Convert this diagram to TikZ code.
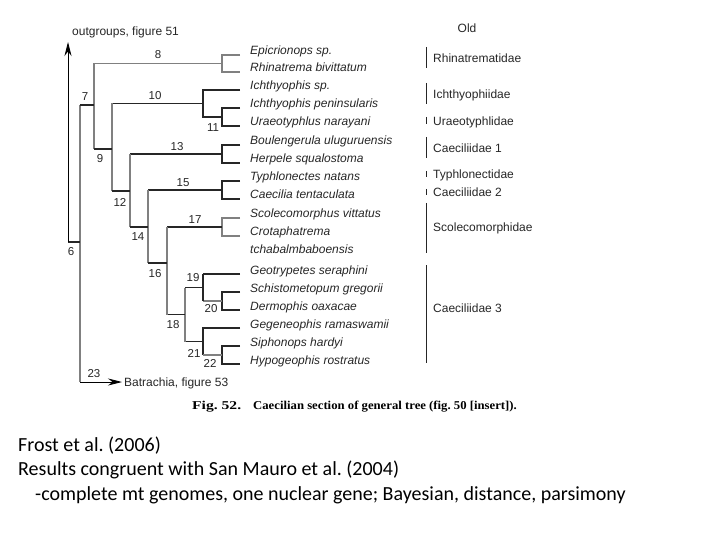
\documentclass[tikz,border=0pt]{standalone}
\usepackage{fontspec}
\setmainfont{Liberation Sans}
\newfontfamily\capfont{Liberation Serif}
\newfontfamily\notefont{Carlito}
\usetikzlibrary{arrows.meta}
\frenchspacing
\begin{document}
\begin{tikzpicture}[x=1pt,y=-1pt,
  br/.style={draw=black!85,line width=1.3pt},
  brg/.style={draw=black!50,line width=1.7pt},
  taxon/.style={anchor=base west,font=\fontsize{12}{14}\selectfont\itshape,text=black!85,inner sep=0pt},
  fam/.style={anchor=base west,font=\fontsize{12}{14}\selectfont,text=black!85,inner sep=0pt},
  num/.style={font=\fontsize{11.5}{13}\selectfont,text=black!85,inner sep=0pt},
  bar/.style={draw=black!85,line width=0.9pt},
  note/.style={anchor=base west,font=\notefont\fontsize{20}{24}\selectfont,inner sep=0pt},
  captext/.style={anchor=base west,font=\capfont\bfseries\fontsize{12}{14}\selectfont,inner sep=0pt},
  arr/.style={-{Stealth[length=14pt,width=7pt]},draw=black,line width=0.9pt}]
\useasboundingbox (0,0) rectangle (720,540);

% taxa
\node[taxon] (t1) at (250,55) {Epicrionops sp.};
\node[taxon] (t2) at (250,72) {Rhinatrema bivittatum};
\node[taxon] (t3) at (250,90) {Ichthyophis sp.};
\node[taxon] (t4) at (250,108) {Ichthyophis peninsularis};
\node[taxon] (t5) at (250,126) {Uraeotyphlus narayani};
\node[taxon] (t6) at (250,145) {Boulengerula uluguruensis};
\node[taxon] (t7) at (250,163) {Herpele squalostoma};
\node[taxon] (t8) at (250,181) {Typhlonectes natans};
\node[taxon] (t9) at (250,199) {Caecilia tentaculata};
\node[taxon] (t10) at (250,218) {Scolecomorphus vittatus};
\node[taxon] (t11) at (250,236) {Crotaphatrema};
\node[taxon] (t11b) at (250,253) {tchabalmbaboensis};
\node[taxon] (t12) at (250,274) {Geotrypetes seraphini};
\node[taxon] (t13) at (250,292) {Schistometopum gregorii};
\node[taxon] (t14) at (250,310) {Dermophis oaxacae};
\node[taxon] (t15) at (250,328) {Gegeneophis ramaswamii};
\node[taxon] (t16) at (250,346) {Siphonops hardyi};
\node[taxon] (t17) at (250,364) {Hypogeophis rostratus};

% tip ends
\foreach \i/\y in {1/55,2/72,3/90,4/108,5/126,6/145,7/163,8/181,9/199,10/218,11/236,12/274,13/292,14/310,15/328,16/346,17/364}
  \coordinate (e\i) at (240,\y);

% internal nodes
\coordinate (c8) at (222,63.5);
\coordinate (c11) at (222,117);
\coordinate (c10) at (203,103.5);
\coordinate (c13) at (222,154);
\coordinate (c15) at (222,190);
\coordinate (c17) at (222,227);
\coordinate (c20) at (222,301);
\coordinate (c19) at (203,287.5);
\coordinate (c22) at (222,355);
\coordinate (c21) at (203,341.5);
\coordinate (c18) at (185,314.5);
\coordinate (c16) at (167,263);
\coordinate (c14) at (148,227);
\coordinate (c12) at (130,191);
\coordinate (c9) at (112,149);
\coordinate (c7) at (94,105);
\coordinate (c6) at (80,242);
\coordinate (c6o) at (68,242);
\coordinate (og) at (68,42);
\coordinate (c23) at (80,382);
\coordinate (bt) at (122,382);

% tip brackets
\draw[brg] (e1) -| (c8) |- (e2);
\draw[br] (e4) -| (c11) |- (e5);
\draw[br] (e3) -| (c10 |- e3) -- (c10 |- c11) -- (c11);
\draw[br] (e6) -| (c13) |- (e7);
\draw[br] (e8) -| (c15) |- (e9);
\draw[brg] (e10) -| (c17) |- (e11);
\draw[br] (e13) -| (c20) |- (e14);
\draw[br] (e12) -| (c19 |- e12);
\draw[brg] (c19 |- c20) -- (c20);
\draw[br] (c19 |- e12) -- (c19 |- c20);
\draw[br] (e16) -| (c22) |- (e17);
\draw[br] (e15) -| (c21 |- e15) -- (c21 |- c22);
\draw[brg] (c21 |- c22) -- (c22);

% backbone
\draw[brg] (c7 |- c8) -- (c8);
\draw[br] (c9 |- c10) -- (c10);
\draw[br] (c12 |- c13) -- (c13);
\draw[br] (c14 |- c15) -- (c15);
\draw[br] (c16 |- c17) -- (c17);
\draw[br] (c18 |- c19) -- (c19);
\draw[br] (c18 |- c21) -- (c21);
\draw[brg] (c18 |- c19) -- (c18 |- c21);
\draw[br] (c16) -- (c16 |- c18) -- (c18);
\draw[brg] (c16 |- c17) -- (c16 |- c18);
\draw[brg] (c14 |- c15) -- (c14 |- c16);
\draw[br] (c14 |- c16) -- (c16);
\draw[brg] (c12 |- c13) -- (c12 |- c14);
\draw[br] (c12 |- c14) -- (c14);
\draw[brg] (c9 |- c10) -- (c9 |- c12);
\draw[br] (c9 |- c12) -- (c12);
\draw[brg] (c7 |- c8) -- (c7 |- c9);
\draw[br] (c7 |- c9) -- (c9);
\draw[brg] (c6 |- c7) -- (c23);
\draw[br] (c6 |- c7) -- (c7);
\draw[br] (c6o) -- (c6);
\draw[arr] (c6o) -- (og);
\draw[arr] (c23) -- (bt);

% node numbers
\node[num] (n8) at (158,55) {8};
\node[num] (n7) at (85,97) {7};
\node[num] (n10) at (155,96) {10};
\node[num] (n11) at (213,128) {11};
\node[num] (n9) at (100,159) {9};
\node[num] (n13) at (177,147) {13};
\node[num] (n12) at (120,202) {12};
\node[num] (n15) at (183,183) {15};
\node[num] (n14) at (138,237) {14};
\node[num] (n17) at (195,220) {17};
\node[num] (n6) at (71,252) {6};
\node[num] (n16) at (155,274) {16};
\node[num] (n19) at (193,278) {19};
\node[num] (n20) at (211,309) {20};
\node[num] (n18) at (173,325) {18};
\node[num] (n21) at (194,353) {21};
\node[num] (n22) at (210,363) {22};
\node[num] (n23) at (94,374) {23};

% ends
\node[fam,anchor=base west] (outg) at (72,35.5) {outgroups, figure 51};
\node[fam,anchor=base west] (batr) at (124,386.5) {Batrachia, figure 53};
\node[fam,anchor=base] (old) at (467,32.5) {Old};

% families
\foreach \a/\b in {47/68,83/104,117/124,137/158,171/177,189/195,203/253,265/363}
  \draw[bar] (426,\a) -- (426,\b);
\node[fam] (f1) at (433,62.5) {Rhinatrematidae};
\node[fam] (f2) at (433,98.5) {Ichthyophiidae};
\node[fam] (f3) at (433,125.5) {Uraeotyphlidae};
\node[fam] (f4) at (433,152.5) {Caeciliidae 1};
\node[fam] (f5) at (433,178.5) {Typhlonectidae};
\node[fam] (f6) at (433,196.5) {Caeciliidae 2};
\node[fam] (f7) at (433,231.5) {Scolecomorphidae};
\node[fam] (f8) at (433,312.5) {Caeciliidae 3};

% caption
\node[captext] (fig) at (192,409) {\scalebox{1.3}[1]{Fig. 52.}};
\node[captext] (capt) at (253,409) {\scalebox{1.06}[1]{Caecilian section of general tree (fig. 50 [insert]).}};

% notes
\node[note] (l1) at (18,451) {Frost et al. (2006)};
\node[note] (l2) at (18,475) {Results congruent with San Mauro et al. (2004)};
\node[note] (l3) at (35,500) {-complete mt genomes, one nuclear gene; Bayesian, distance, parsimony};
\end{tikzpicture}
\end{document}
